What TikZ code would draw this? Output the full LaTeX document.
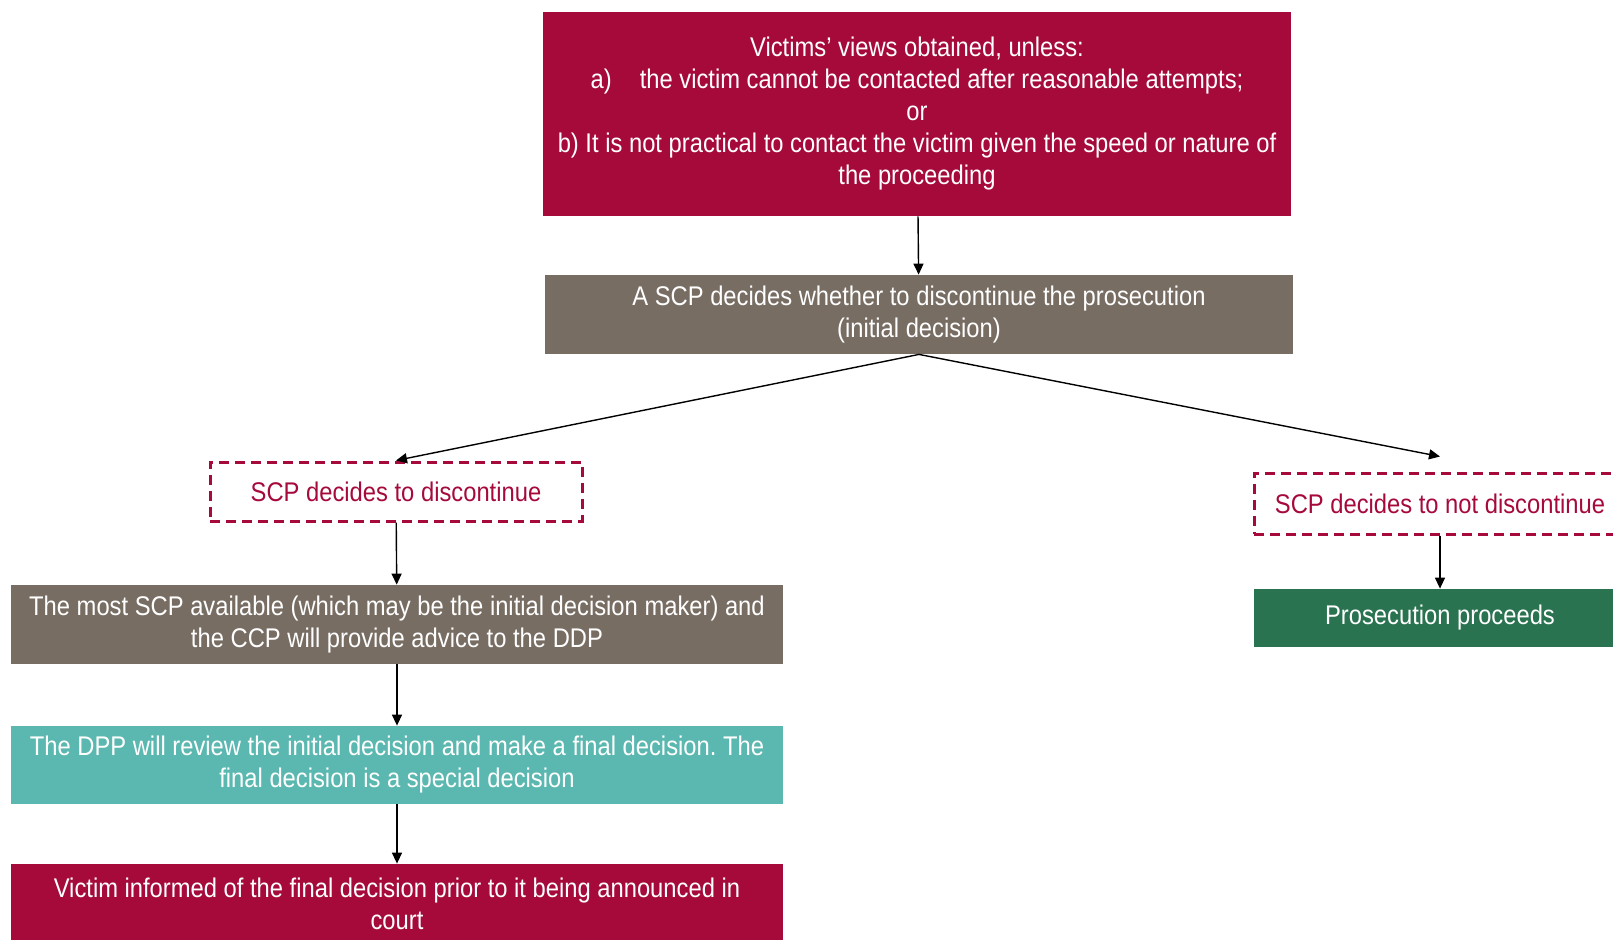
\documentclass[tikz,border=0pt]{standalone}
\usepackage{fontspec}
\setmainfont{Liberation Sans}[FakeStretch=0.88]
\usetikzlibrary{arrows.meta,positioning}
\frenchspacing

\definecolor{crimson}{HTML}{A50A3B}
\definecolor{stone}{HTML}{786D63}
\definecolor{teal}{HTML}{5BB8B0}
\definecolor{forest}{HTML}{2A7350}

\begin{document}
\begin{tikzpicture}[
  x=0.5pt, y=-0.5pt,
  font=\fontsize{13.5}{16}\selectfont,
  box/.style={
    draw=none,
    text=white,
    align=center,
    inner sep=0pt
  },
  redbox/.style={box, fill=crimson},
  greybox/.style={box, fill=stone},
  tealbox/.style={box, fill=teal},
  greenbox/.style={box, fill=forest},
  choice/.style={
    draw=crimson,
    text=crimson,
    dash pattern=on 5pt off 3pt,
    line width=1.5pt,
    align=center,
    inner sep=0pt,
    minimum width=186pt
  },
  arrow/.style={-{Triangle[length=5.5pt,width=5pt]}, line width=0.7pt, draw=black}
]
\useasboundingbox (0,0) rectangle (1613,939);

\node[redbox, minimum width=374pt, minimum height=102pt] (views) at (917,114)
  {Victims' views obtained, unless:\\
   a)\hspace{14pt}the victim cannot be contacted after reasonable attempts;\\
   or\\
   b) It is not practical to contact the victim given the speed or nature of\\
   the proceeding};
\node[greybox, minimum width=374pt, minimum height=39.5pt] (initial) at (919,314.5)
  {A SCP decides whether to discontinue the prosecution\\(initial decision)};

\node[choice, minimum height=29.5pt] (disc) at (396,491.5) {SCP decides to discontinue};
\node[choice, minimum height=30.5pt] (notdisc) at (1440,503.5) {SCP decides to not discontinue};
\coordinate[above=7.5pt of notdisc.north] (notdisctop);

\node[greybox, minimum width=386pt, minimum height=39.5pt] (advice) at (397,624.5)
  {The most SCP available (which may be the initial decision maker) and\\
   the CCP will provide advice to the DDP};
\node[tealbox, minimum width=386pt, minimum height=39pt] (review) at (397,765)
  {The DPP will review the initial decision and make a final decision. The\\
   final decision is a special decision};
\node[redbox, minimum width=386pt, minimum height=40pt] (inform) at (397,904)
  {Victim informed of the final decision prior to it being announced in\\court};

\node[greenbox, minimum width=186pt, minimum height=29pt] (proceeds) at (1440,618)
  {Prosecution proceeds};

\draw[arrow] (views) -- (initial);
\draw[arrow] (initial.south) -- (disc.north);
\draw[arrow] (initial.south) -- (notdisctop);
\draw[arrow] (disc) -- (advice);
\draw[arrow] (advice) -- (review);
\draw[arrow] (review) -- (inform);
\draw[arrow] (notdisc) -- (proceeds);

\end{tikzpicture}
\end{document}
